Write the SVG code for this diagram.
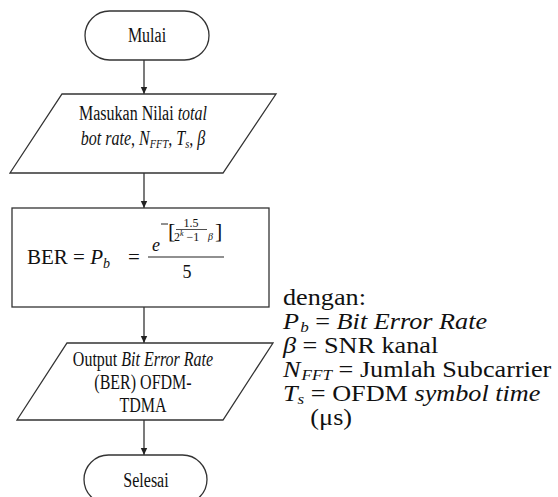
<svg xmlns="http://www.w3.org/2000/svg" width="558" height="497" viewBox="0 0 558 497">
<defs>
<style>
.s{fill:#fff;stroke:#333;stroke-width:1.3}
.c{stroke:#333;stroke-width:1.3;fill:none}
.t{fill:#111}
.fc{font-size:20px;text-anchor:middle}
.i{font-style:italic}
</style>
<marker id="ah" markerWidth="8" markerHeight="8" refX="7" refY="4" orient="auto" markerUnits="userSpaceOnUse">
<path d="M0,0.8 L7,4 L0,7.2 Z" fill="#222"/>
</marker>
</defs>
<rect width="558" height="497" fill="#fff"/>
<g id="connectors">
<line class="c" x1="144" y1="60" x2="144" y2="94" marker-end="url(#ah)"/>
<line class="c" x1="144" y1="173" x2="144" y2="208" marker-end="url(#ah)"/>
<line class="c" x1="144" y1="307" x2="144" y2="343" marker-end="url(#ah)"/>
<line class="c" x1="144" y1="420" x2="144" y2="455" marker-end="url(#ah)"/>
</g>
<g font-family="Liberation Serif, serif">
<g id="mulai">
<rect class="s" x="85" y="11" width="124" height="49" rx="24.5"/>
<text class="t fc" transform="translate(147,42) scale(0.8,1)">Mulai</text>
</g>
<g id="input">
<polygon class="s" points="62,94 276,94 223,173 10,173"/>
<text class="t fc" transform="translate(143,120) scale(0.8,1)">Masukan Nilai <tspan class="i">total</tspan></text>
<text class="t fc" transform="translate(143,145) scale(0.8,1)"><tspan class="i">bot rate, N<tspan font-size="13" dy="3">FFT</tspan><tspan dy="-3">, T</tspan><tspan font-size="13" dy="3">s</tspan><tspan dy="-3">,  β</tspan></tspan></text>
</g>
<g id="process">
<rect class="s" x="12" y="208" width="257" height="99"/>
<g class="t" font-size="21">
<text x="27" y="264">BER = <tspan class="i">P</tspan><tspan class="i" font-size="14" dy="4">b</tspan></text>
<text x="128" y="264">=</text>
<text x="152" y="251" class="i" font-size="18">e</text>
<line x1="161" y1="224" x2="168" y2="224" stroke="#222" stroke-width="1"/>
<text x="168" y="238" font-size="22">[</text>
<text x="191" y="227" font-size="12" text-anchor="middle">1.5</text>
<line x1="176" y1="229.5" x2="207" y2="229.5" stroke="#222" stroke-width="0.8"/>
<text x="174" y="241" font-size="12">2<tspan font-size="8" dy="-5" class="i">k</tspan><tspan dy="5"> −1</tspan></text>
<text x="208" y="240" font-size="10" class="i">β</text>
<text x="215" y="238" font-size="22">]</text>
<line x1="148" y1="257" x2="224" y2="257" stroke="#222" stroke-width="1.1"/>
<text x="187" y="278" font-size="18" text-anchor="middle">5</text>
</g>
</g>
<g id="output">
<polygon class="s" points="67,343 273,343 223,420 17,420"/>
<text class="t fc" transform="translate(143,366) scale(0.8,1)">Output <tspan class="i">Bit Error Rate</tspan></text>
<text class="t fc" transform="translate(143,389) scale(0.8,1)">(BER) OFDM-</text>
<text class="t fc" transform="translate(143,412) scale(0.8,1)">TDMA</text>
</g>
<g id="selesai">
<rect class="s" x="84" y="455" width="123" height="49" rx="24.5"/>
<text class="t fc" transform="translate(146,487) scale(0.8,1)">Selesai</text>
</g>
<g id="legend" class="t" font-size="23" transform="translate(283,0) scale(1.14,1)">
<text x="0" y="305">dengan:</text>
<text x="0" y="329"><tspan class="i">P</tspan><tspan class="i" font-size="15" dx="1" dy="3">b</tspan><tspan dy="-3"> = </tspan><tspan class="i">Bit Error Rate</tspan></text>
<text x="0" y="353"><tspan class="i">β</tspan> = SNR kanal</text>
<text x="0" y="377"><tspan class="i">N</tspan><tspan class="i" font-size="15" dx="1" dy="3">FFT</tspan><tspan dy="-3"> = Jumlah Subcarrier</tspan></text>
<text x="0" y="401"><tspan class="i">T</tspan><tspan class="i" font-size="15" dy="3">s</tspan><tspan dy="-3"> = OFDM </tspan><tspan class="i">symbol time</tspan></text>
<text x="24" y="425">(μs)</text>
</g>
</g>
</svg>
